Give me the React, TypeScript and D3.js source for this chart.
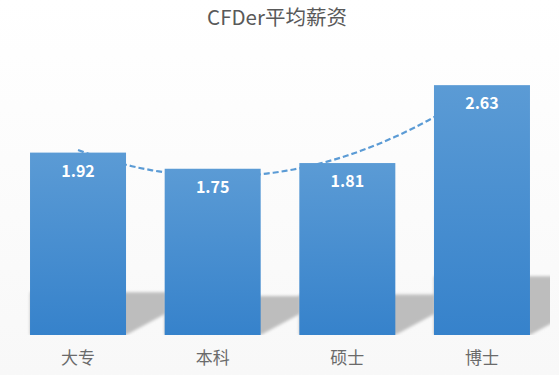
import React from "react";
import * as d3 from "d3";

const categories = ["大专", "本科", "硕士", "博士"];
const salaries = [1.92, 1.75, 1.81, 2.63];
const titleText = "CFDer平均薪资";

const width = 559;
const height = 375;
const baseY = 335;

// least squares fit, order 2 (Excel polynomial trendline)
function polyFit(xs: number[], ys: number[]) {
  const n = xs.length;
  const s = [0, 0, 0, 0, 0];
  const t = [0, 0, 0];
  for (let i = 0; i < n; i++) {
    for (let k = 0; k < 5; k++) s[k] += Math.pow(xs[i], k);
    for (let k = 0; k < 3; k++) t[k] += Math.pow(xs[i], k) * ys[i];
  }
  const m = [
    [s[0], s[1], s[2], t[0]],
    [s[1], s[2], s[3], t[1]],
    [s[2], s[3], s[4], t[2]],
  ];
  for (let i = 0; i < 3; i++) {
    for (let j = i + 1; j < 3; j++) {
      const f = m[j][i] / m[i][i];
      for (let k = i; k < 4; k++) m[j][k] -= f * m[i][k];
    }
  }
  const c = [0, 0, 0];
  for (let i = 2; i >= 0; i--) {
    let v = m[i][3];
    for (let k = i + 1; k < 3; k++) v -= m[i][k] * c[k];
    c[i] = v / m[i][i];
  }
  return (x: number) => c[0] + c[1] * x + c[2] * x * x;
}

const App = () => {
  const x = d3
    .scaleBand()
    .domain(categories)
    .range([10.7, 549.3])
    .paddingInner(0.287)
    .paddingOuter(0.1435);
  const y = d3.scaleLinear().domain([0, 3]).range([baseY, 50]);
  const bw = x.bandwidth();

  const idx = categories.map((_, i) => i + 1);
  const fit = polyFit(idx, salaries);
  const cx = (i: number) => (x(categories[0]) as number) + bw / 2 + (i - 1) * x.step();
  const pts = d3.range(1, 4.0001, 0.05).map((i) => [cx(i), y(fit(i))] as [number, number]);
  const trend = d3.line()(pts);

  return (
    <svg
      width={width}
      height={height}
      style={{ position: "absolute", left: 0, top: 0 }}
      fontFamily="'Noto Sans CJK SC', 'Noto Sans', sans-serif"
    >
      <defs>
        <linearGradient id="bg" x1="0" y1="0" x2="0" y2={height} gradientUnits="userSpaceOnUse">
          <stop offset={0} stopColor="#ffffff" />
          <stop offset={75} stopColor="#f8f8f8" />
          <stop offset={180} stopColor="#ebebeb" />
          <stop offset={255} stopColor="#d8d8d8" />
          <stop offset={290} stopColor="#e6e6e6" />
          <stop offset={333} stopColor="#f3f3f3" />
          <stop offset={345} stopColor="#f8f8f8" />
          <stop offset={375} stopColor="#fdfdfd" />
        </linearGradient>
        <linearGradient id="barFill" x1="0" y1="0" x2="0" y2="1">
          <stop offset="0%" stopColor="#5b9bd5" />
          <stop offset="100%" stopColor="#3682cb" />
        </linearGradient>
        <filter id="blur" x="-20%" y="-20%" width="140%" height="140%">
          <feGaussianBlur stdDeviation="1.6" />
        </filter>
        <clipPath id="plot">
          <rect x={0} y={0} width={550} height={baseY} />
        </clipPath>
      </defs>

      <rect x={0} y={0} width={width} height={height} fill="url(#bg)" />

      <text
        x={277}
        y={25}
        textAnchor="middle"
        fontSize={20.5}
        fill="#595959"
      >
        {titleText}
      </text>

      <g clipPath="url(#plot)">
        {categories.map((c, i) => {
          const x0 = x(c) as number;
          const x1 = x0 + bw;
          const h = baseY - y(salaries[i]);
          const sh = h * 0.235;
          const dx = 40;
          const p = [
            [x0, baseY],
            [x1, baseY],
            [x1 + dx, baseY - dx * 0.54],
            [x1 + dx, baseY - sh],
            [x0, baseY - sh],
          ];
          return (
            <polygon
              key={c}
              points={p.map((q) => q.join(",")).join(" ")}
              fill="#bdbdbd"
              filter="url(#blur)"
            />
          );
        })}
      </g>

      <path
        d={trend || ""}
        fill="none"
        stroke="#5b9bd5"
        strokeWidth={2.2}
        strokeDasharray="6,3"
      />

      {categories.map((c, i) => (
        <rect
          key={c}
          x={x(c)}
          y={y(salaries[i])}
          width={bw}
          height={baseY - y(salaries[i])}
          fill="url(#barFill)"
        />
      ))}

      {categories.map((c, i) => (
        <text
          key={c}
          x={(x(c) as number) + bw / 2}
          y={y(salaries[i]) + 24}
          textAnchor="middle"
          fontSize={16}
          fontWeight="bold"
          fill="#ffffff"
        >
          {salaries[i].toFixed(2)}
        </text>
      ))}

      {categories.map((c) => (
        <text
          key={c}
          x={(x(c) as number) + bw / 2}
          y={364}
          textAnchor="middle"
          fontSize={17}
          fill="#6a6a6a"
        >
          {c}
        </text>
      ))}
    </svg>
  );
};

export default App;
